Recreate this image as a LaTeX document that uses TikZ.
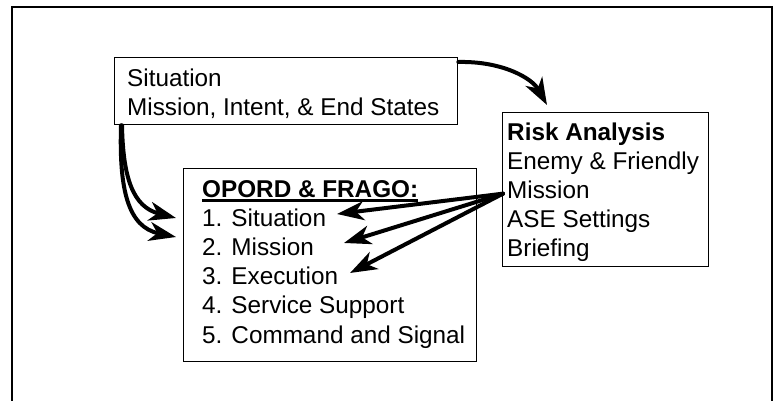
\documentclass[tikz,border=0pt]{standalone}
\usepackage{fontspec}
\setmainfont{Liberation Sans}
\usetikzlibrary{arrows.meta}
\begin{document}
\begin{tikzpicture}[x=1pt,y=-1pt,
  box/.style={draw=black, line width=1.3pt, anchor=north west, inner sep=0pt},
  txt/.style={anchor=base west, inner sep=0pt, font=\fontsize{24.3}{29}\selectfont},
  boldtxt/.style={anchor=base west, inner sep=0pt, font=\fontsize{24.3}{29}\selectfont\bfseries},
  arr/.style={line width=4pt, line cap=round, -{Stealth[length=27pt,width=19pt,inset=8pt]}},
  frame/.style={line width=2pt}
]
\useasboundingbox (0,0) rectangle (773,401);
\draw[frame] (11.5,401) -- (11.5,7) -- (771.5,7) -- (771.5,401);

% boxes
\node[box, minimum width=343pt, minimum height=67pt] (sit) at (114,57) {};
\node[box, minimum width=206pt, minimum height=154pt] (risk) at (502,112) {};
\node[box, minimum width=293pt, minimum height=193pt] (opord) at (183,168) {};

% top box text
\node[txt] (s1) at (127,87) {Situation};
\node[txt] (s2) at (127,115.5) {Mission, Intent, \& End States};

% risk box text
\node[boldtxt] (r0) at (507,140) {Risk Analysis};
\node[txt] (r1) at (507,169.2) {Enemy \& Friendly};
\node[txt] (r2) at (507,198.4) {Mission};
\node[txt] (r3) at (507,227.6) {ASE Settings};
\node[txt] (r4) at (507,256.8) {Briefing};

% opord box text
\node[boldtxt] (o0) at (202,197) {OPORD \& FRAGO:};
\draw[line width=2.5pt] ([yshift=-3.5pt]o0.base west) -- ([yshift=-3.5pt]o0.base east);
\node[txt] (o1) at (202,226.2) {1. Situation};
\node[txt] (o2) at (202,255.4) {2. Mission};
\node[txt] (o3) at (202,284.6) {3. Execution};
\node[txt] (o4) at (202,313.8) {4. Service Support};
\node[txt] (o5) at (202,343) {5. Command and Signal};

% connectors
\coordinate (ta) at (547,105);
\draw[arr] ([yshift=-5pt]sit.north east) .. controls (502,61) and (532,78) .. (ta);

\coordinate (tb) at (176,218);
\coordinate (tc) at (176,237);
\draw[arr] ([xshift=8pt]sit.south west) .. controls (123,178) and (133,207) .. (tb);
\draw[arr] ([xshift=7pt]sit.south west) .. controls (119,190) and (128,227) .. (tc);

\coordinate (rs) at ([xshift=1pt,yshift=-4pt]risk.west);
\coordinate (t1) at (337,214);
\coordinate (t2) at (344,243);
\coordinate (t3) at (350,273);
\draw[arr] (rs) -- (t1);
\draw[arr] (rs) -- (t2);
\draw[arr] (rs) -- (t3);
\end{tikzpicture}
\end{document}
